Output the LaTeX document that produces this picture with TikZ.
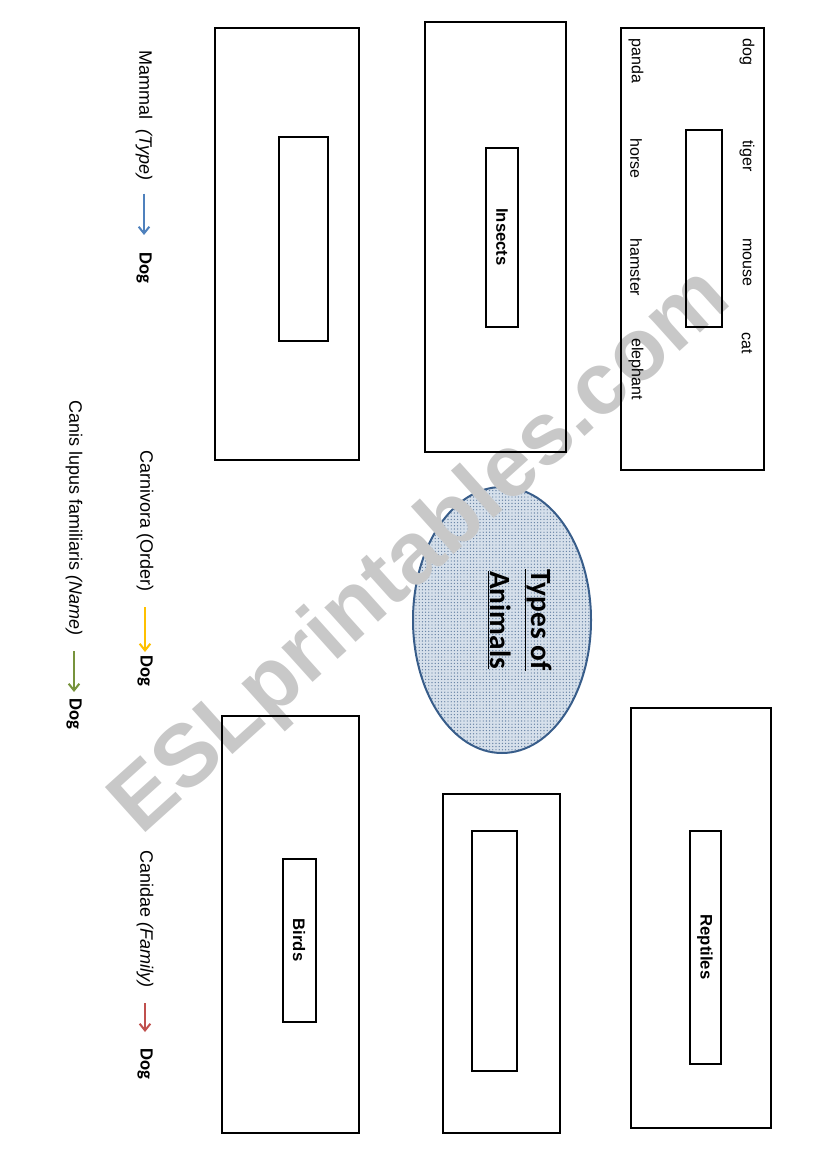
\documentclass[tikz,border=0pt]{standalone}
\usepackage{fontspec}
\setmainfont{Liberation Sans}
\newfontfamily\calfont{Carlito}
\usetikzlibrary{arrows.meta,patterns.meta}

\definecolor{typeblue}{RGB}{79,129,189}
\definecolor{ordergold}{RGB}{255,192,0}
\definecolor{namegreen}{RGB}{119,147,60}
\definecolor{familyred}{RGB}{192,80,77}
\definecolor{ovalline}{RGB}{56,93,138}
\definecolor{ovalfill}{RGB}{214,224,235}
\definecolor{wmgray}{RGB}{200,200,200}

\tikzset{every picture/.style={line width=0.75pt}}
\tikzset{
  frame/.style={draw=black, line width=1pt},
  word/.style={anchor=west, rotate=-90, inner sep=0pt, font=\fontsize{12}{14}\selectfont},
  rank/.style={anchor=west, rotate=-90, inner sep=0pt, font=\fontsize{13.5}{16}\selectfont},
  dogtxt/.style={anchor=west, rotate=-90, inner sep=0pt, font=\calfont\bfseries\fontsize{14}{16}\selectfont},
  groupname/.style={rotate=-90, inner sep=0pt, font=\bfseries\fontsize{12.5}{15}\selectfont},
  rankarrow/.style={line width=1.5pt, -{Straight Barb[length=5pt,width=8pt]}},
}

\begin{document}
\begin{tikzpicture}[x=0.75pt,y=0.75pt,yscale=-1,xscale=1]
\useasboundingbox (0,0) rectangle (826,1169);

%Shape: Ellipse
\draw [ovalline, line width=1.5pt, preaction={fill=ovalfill}, pattern={Dots[distance=2.4pt, radius=0.5pt]}, pattern color=ovalline!80] (502,620) ellipse (89 and 133);

%Watermark
\node [rotate=42, text=wmgray, font=\bfseries\fontsize{66}{66}\selectfont] (wmark) at (422,553) {ESLprintables.com};

%Shape: Rectangle (animal list)
\draw [frame] (621,28) rectangle (764,470);
\draw [frame] (686,130) rectangle (722,327);
% Text Node
\node [word] (dog) at (747,38) {dog};
\node [word] (tiger) at (747,140) {tiger};
\node [word] (mouse) at (747,238) {mouse};
\node [word] (cat) at (747,332) {cat};
\node [word] (panda) at (636,38) {panda};
\node [word] (horse) at (636,138) {horse};
\node [word] (hamster) at (636,238) {hamster};
\node [word] (elephant) at (636,338) {elephant};

%Shape: Rectangle (insects)
\draw [frame] (425,22) rectangle (566,452);
\draw [frame] (486,148) rectangle (518,327);
\node [groupname] (insects) at (502,237) {Insects};

%Shape: Rectangle (empty, top)
\draw [frame] (215,28) rectangle (359,460);
\draw [frame] (279,137) rectangle (328,341);

%Shape: Rectangle (birds)
\draw [frame] (222,716) rectangle (359,1133);
\draw [frame] (283,859) rectangle (316,1022);
\node [groupname] (birds) at (299,940) {Birds};

%Shape: Rectangle (empty, bottom)
\draw [frame] (443,794) rectangle (560,1133);
\draw [frame] (472,831) rectangle (517,1071);

%Shape: Rectangle (reptiles)
\draw [frame] (631,708) rectangle (771,1128);
\draw [frame] (690,831) rectangle (721,1064);
\node [groupname] (reptiles) at (705,947) {Reptiles};

% Title
\node [rotate=-90, align=center, inner sep=0pt, font=\calfont\bfseries\fontsize{22}{30.75}\selectfont] (title) at (520,620) {\underline{Types of}\\\underline{Animals}};

% Ranks of the dog
\node [rank] (mammal) at (144,50) {Mammal \ \textit{(Type)}};
\node [dogtxt] (dog1) at (144,252) {Dog};
\draw [rankarrow, typeblue, shorten <=9.75pt, shorten >=12.75pt] (mammal) -- (dog1);

\node [rank] (carnivora) at (145,450) {Carnivora (Order)};
\node [dogtxt] (dog2) at (145,655) {Dog};
\draw [rankarrow, ordergold, shorten <=11.25pt, shorten >=2.25pt] (carnivora) -- (dog2);

\node [rank] (canis) at (74,400) {Canis lupus familiaris \textit{(Name)}};
\node [dogtxt] (dog3) at (74,698) {Dog};
\draw [rankarrow, namegreen, shorten <=11.25pt, shorten >=4.5pt] (canis) -- (dog3);

\node [rank] (canidae) at (145,850) {Canidae \textit{(Family)}};
\node [dogtxt] (dog4) at (145,1048) {Dog};
\draw [rankarrow, familyred, shorten <=11.25pt, shorten >=12pt] (canidae) -- (dog4);

\end{tikzpicture}
\end{document}
